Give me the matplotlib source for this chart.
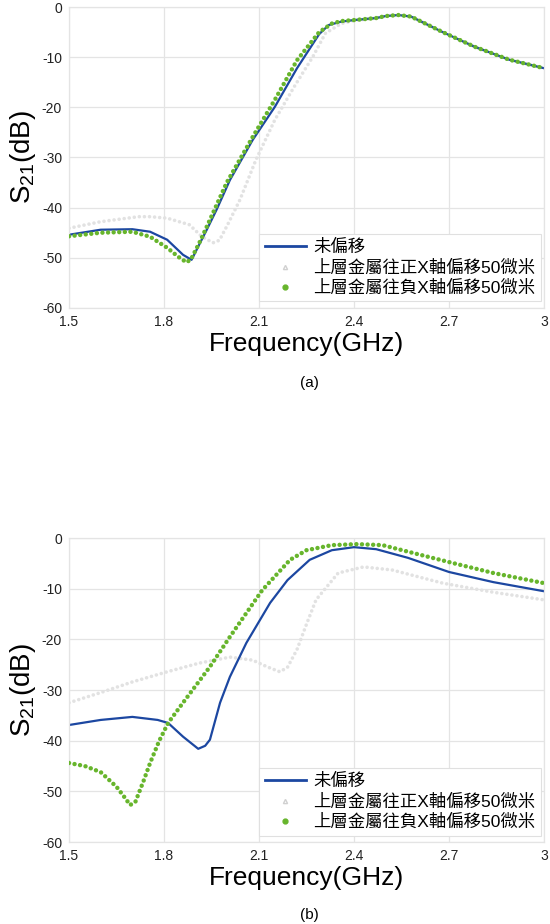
import matplotlib.pyplot as plt
from matplotlib.lines import Line2D

plt.rcParams['font.family'] = ['Liberation Sans', 'Noto Sans CJK TC', 'DejaVu Sans']
plt.rcParams['axes.unicode_minus'] = False

# ---- panel (a) ----
fa_blue = [1.5, 1.6, 1.7, 1.756, 1.81, 1.86, 1.887, 1.914, 1.935, 1.966, 2.008, 2.08, 2.15,
           2.22, 2.29, 2.32, 2.36, 2.40, 2.47, 2.50, 2.54, 2.58, 2.68, 2.78, 2.89, 3.0]
sa_blue = [-45.4, -44.4, -44.3, -44.8, -46.4, -49.4, -50.4, -47.0, -44.4, -40.4, -34.5, -26.5, -19.9,
           -12.2, -5.4, -3.6, -2.9, -2.6, -2.2, -1.8, -1.6, -1.9, -5.0, -7.9, -10.5, -12.2]

fa_green = [1.5, 1.6, 1.7, 1.756, 1.81, 1.845, 1.871, 1.885, 1.898, 1.914, 1.945, 1.998, 2.08,
            2.15, 2.22, 2.29, 2.33, 2.36, 2.40, 2.47, 2.50, 2.54, 2.58, 2.68, 2.78, 2.89, 3.0]
sa_green = [-45.7, -45.0, -44.8, -45.8, -48.0, -49.8, -50.9, -50.3, -48.7, -46.7, -42.4, -35.0, -25.9,
            -18.5, -10.6, -5.0, -3.3, -2.8, -2.6, -2.2, -1.8, -1.6, -1.9, -5.0, -7.9, -10.5, -12.2]

fa_gray = [1.5, 1.6, 1.72, 1.756, 1.81, 1.88, 1.92, 1.955, 1.975, 2.0, 2.04, 2.09, 2.15, 2.21,
           2.27, 2.31, 2.36, 2.40, 2.47, 2.50, 2.54, 2.58, 2.68, 2.78, 2.89, 3.0]
sa_gray = [-44.1, -42.8, -41.8, -41.8, -42.1, -43.4, -45.8, -47.0, -46.5, -43.5, -38.4, -30.5, -22.5, -16.0,
           -9.9, -5.2, -3.3, -2.7, -2.2, -1.8, -1.6, -1.9, -5.0, -7.9, -10.5, -12.2]

# ---- panel (b) ----
fb_blue = [1.5, 1.6, 1.70, 1.78, 1.813, 1.86, 1.908, 1.93, 1.945, 1.977, 2.008, 2.06, 2.135,
           2.19, 2.26, 2.33, 2.40, 2.47, 2.57, 2.70, 2.84, 3.0]
sb_blue = [-36.9, -35.9, -35.3, -35.9, -36.5, -39.2, -41.6, -41.0, -39.8, -32.5, -27.4, -20.7, -12.8,
           -8.3, -4.3, -2.4, -1.8, -2.2, -3.9, -6.7, -8.7, -10.5]

fb_green = [1.5, 1.55, 1.6, 1.65, 1.677, 1.693, 1.71, 1.735, 1.756, 1.785, 1.813, 1.86, 1.945,
            2.008, 2.11, 2.198, 2.25, 2.33, 2.41, 2.49, 2.59, 2.71, 2.84, 3.0]
sb_green = [-44.4, -45.0, -46.2, -49.1, -51.3, -52.7, -52.0, -48.0, -44.4, -40.0, -36.5, -32.5, -25.4,
            -19.5, -10.3, -4.3, -2.4, -1.4, -1.2, -1.4, -3.0, -4.9, -6.9, -8.9]

fb_gray = [1.5, 1.6, 1.70, 1.81, 1.91, 2.008, 2.08, 2.125, 2.166, 2.19, 2.22, 2.25, 2.28,
           2.35, 2.43, 2.52, 2.68, 2.84, 3.0]
sb_gray = [-32.5, -30.5, -28.4, -26.4, -24.7, -23.5, -24.1, -25.4, -26.4, -25.5, -22.0, -17.0, -12.2,
           -6.9, -5.7, -6.3, -8.9, -10.7, -12.2]

labels = ['未偏移', '上層金屬往正X軸偏移50微米', '上層金屬往負X軸偏移50微米']
xticks = [1.5, 1.8, 2.1, 2.4, 2.7, 3.0]
xticklabels = ['1.5', '1.8', '2.1', '2.4', '2.7', '3']
yticks = [0, -10, -20, -30, -40, -50, -60]

blue = '#1c47a1'
green = '#67b52c'
gray = '#e2e2e2'

fig = plt.figure(figsize=(5.5, 9.24), dpi=100)
ax_a = fig.add_axes([0.1255, 0.6667, 0.8636, 0.3257])
ax_b = fig.add_axes([0.1255, 0.0887, 0.8636, 0.3290])

panels = [
    (ax_a, fa_blue, sa_blue, fa_gray, sa_gray, fa_green, sa_green, '(a)', 383),
    (ax_b, fb_blue, sb_blue, fb_gray, sb_gray, fb_green, sb_green, '(b)', 915),
]

for ax, fbl, sbl, fgr, sgr, fgn, sgn, tag, ypx in panels:
    ax.plot(fgr, sgr, color=gray, lw=2.6, linestyle=(0, (0.01, 1.4)),
            dash_capstyle='round', zorder=2)
    ax.plot(fgn, sgn, color=green, lw=3.2, linestyle=(0, (0.01, 1.25)),
            dash_capstyle='round', zorder=3)
    ax.plot(fbl, sbl, color=blue, lw=1.6, zorder=2.5)

    ax.set_xlim(1.5, 3.0)
    ax.set_ylim(-60, 0)
    ax.set_xticks(xticks)
    ax.set_xticklabels(xticklabels)
    ax.set_yticks(yticks)
    ax.tick_params(length=0, labelsize=10, pad=5, colors='#222222')
    ax.grid(color='#e4e4e4', linewidth=0.9)
    ax.set_axisbelow(True)
    for s in ax.spines.values():
        s.set_color('#e4e4e4')
        s.set_linewidth(0.9)

    ax.set_xlabel('Frequency(GHz)', fontsize=19, labelpad=2)
    ax.set_ylabel(r'$\mathregular{S_{21}}$(dB)', fontsize=20, labelpad=3)

    handles = [
        Line2D([], [], color=blue, lw=2),
        Line2D([], [], color='#d0d0d0', marker='^', markerfacecolor='none',
               markersize=3, linestyle='none'),
        Line2D([], [], color=green, marker='o', markersize=3.5, linestyle='none'),
    ]
    leg = ax.legend(handles, labels, loc='lower right', bbox_to_anchor=(1.0, 0.01),
                    fontsize=12.5, frameon=True, fancybox=False, edgecolor='#e0e0e0',
                    handlelength=2.4, handletextpad=0.4, labelspacing=0.25,
                    borderpad=0.3, borderaxespad=0.2, framealpha=1)
    leg.get_frame().set_linewidth(0.8)

    fig.text(0.5633, 1 - ypx / 924, tag, ha='center', va='center', fontsize=11)

fig.savefig('out.png', dpi=100)
